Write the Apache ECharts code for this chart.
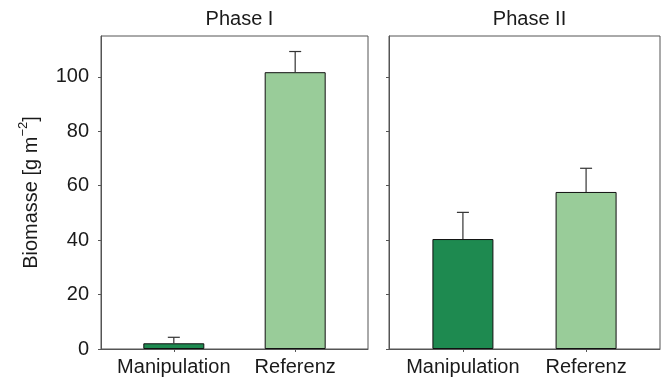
<!DOCTYPE html>
<html>
<head>
<meta charset="utf-8">
<script src="https://cdn.jsdelivr.net/npm/echarts@6/dist/echarts.min.js"></script>
<style>
  html, body { margin: 0; padding: 0; background: #fff; }
  #chart { width: 662px; height: 383px; }
</style>
</head>
<body>
<div id="chart"></div>
<script>
// Biomass per treatment, two study phases (mean and standard error)
const categories = ['Manipulation', 'Referenz'];
const phaseTitles = ['Phase I', 'Phase II'];
const phase1Mean = [2.1, 101.7];
const phase1Err = [2.2, 7.6];
const phase2Mean = [40.4, 57.7];
const phase2Err = [9.8, 8.7];
const yTicks = [0, 20, 40, 60, 80, 100];
const barColors = ['#1e8a50', '#99cc99'];

const FONT = '"Liberation Sans", Arial, Helvetica, sans-serif';
const TEXT = '#1a1a1a';
const FRAME = '#555';
const FS = 20;

const chart = echarts.init(document.getElementById('chart'), null, { renderer: 'canvas' });

const grids = [
  { left: 101, top: 36, width: 267, bottom: 34 },
  { left: 389, top: 36, width: 271, bottom: 34 }
];

function xAxisFor(i) {
  return {
    type: 'value', gridIndex: i, min: -0.6, max: 1.6,
    axisLine: { show: true, onZero: false, lineStyle: { color: FRAME, width: 1 } },
    axisTick: { show: true, customValues: [0, 1], length: 3, lineStyle: { color: FRAME } },
    axisLabel: {
      customValues: [0, 1], margin: 8,
      formatter: v => categories[Math.round(v)] || '',
      fontFamily: FONT, fontSize: FS, color: TEXT
    },
    splitLine: { show: false }
  };
}

function yAxisFor(i) {
  return {
    type: 'value', gridIndex: i, min: 0, max: 115,
    axisLine: { show: true, onZero: false, lineStyle: { color: FRAME, width: 1 } },
    axisTick: { show: true, customValues: yTicks, length: 3, lineStyle: { color: FRAME } },
    axisLabel: {
      show: i === 0, customValues: yTicks, margin: 12,
      fontFamily: FONT, fontSize: FS, color: TEXT
    },
    splitLine: { show: false },
    name: i === 0 ? '{t|Biomasse [g m}{s|−2}{t|]}' : '',
    nameLocation: 'middle', nameRotate: 90, nameGap: 60,
    nameTextStyle: {
      rich: {
        t: { fontFamily: FONT, fontSize: FS, color: TEXT, lineHeight: 24, verticalAlign: 'bottom' },
        s: { fontFamily: FONT, fontSize: 13, color: TEXT, lineHeight: 24, verticalAlign: 'top', padding: [0, 0, 9, 0] }
      }
    }
  };
}

function barSeries(i, means) {
  return {
    type: 'bar', xAxisIndex: i, yAxisIndex: i, barWidth: 61,
    data: means.map((m, k) => ({
      value: [k, m],
      itemStyle: { color: barColors[k], borderColor: '#111', borderWidth: 1 }
    })),
    z: 2
  };
}

function errSeries(i, means, errs) {
  return {
    type: 'custom', xAxisIndex: i, yAxisIndex: i, z: 3,
    data: means.map((m, k) => [k, m, m + errs[k]]),
    renderItem: (params, api) => {
      const base = api.coord([api.value(0), api.value(1)]);
      const top = api.coord([api.value(0), api.value(2)]);
      const half = 6;
      const style = { stroke: '#333', lineWidth: 1.2, fill: null };
      return {
        type: 'group',
        children: [
          { type: 'line', shape: { x1: base[0], y1: base[1], x2: top[0], y2: top[1] }, style },
          { type: 'line', shape: { x1: top[0] - half, y1: top[1], x2: top[0] + half, y2: top[1] }, style }
        ]
      };
    }
  };
}

chart.setOption({
  backgroundColor: '#fff',
  animation: false,
  title: phaseTitles.map((t, i) => ({
    text: t,
    left: grids[i].left + grids[i].width / 2,
    top: 4,
    textAlign: 'center',
    textStyle: { fontFamily: FONT, fontSize: FS, fontWeight: 'normal', color: TEXT }
  })),
  grid: grids.map(g => Object.assign({ show: true, borderColor: FRAME, borderWidth: 1, backgroundColor: 'transparent' }, g)),
  xAxis: [xAxisFor(0), xAxisFor(1)],
  yAxis: [yAxisFor(0), yAxisFor(1)],
  series: [
    barSeries(0, phase1Mean), errSeries(0, phase1Mean, phase1Err),
    barSeries(1, phase2Mean), errSeries(1, phase2Mean, phase2Err)
  ]
});
</script>
</body>
</html>
